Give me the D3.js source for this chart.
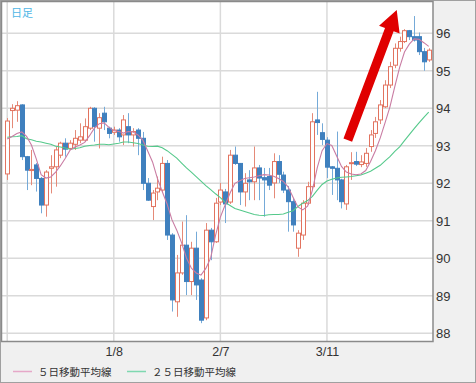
<!DOCTYPE html>
<html><head><meta charset="utf-8">
<script src="https://cdn.jsdelivr.net/npm/d3@7"></script>
<style>
html,body{margin:0;padding:0;background:#f0f0f0;}
svg{display:block;}
</style></head><body>
<svg id="c" width="476" height="383"></svg>
<script>
// ---- data ----
const openP  = [92.25,93.94,93.95,94.09,92.71,92.34,92.49,92.13,91.42,92.40,92.44,92.75,93.07,92.93,93.04,93.15,93.15,93.47,94.00,93.47,93.87,93.47,93.36,93.42,93.29,93.51,93.29,93.42,93.20,92.00,91.38,91.77,91.82,92.53,90.62,88.84,89.61,90.35,89.38,90.27,89.42,88.41,90.75,90.44,91.50,91.77,91.50,92.75,92.53,91.77,92.09,92.04,92.41,92.15,92.18,92.01,92.58,92.22,91.82,91.51,90.27,90.62,91.47,91.91,93.69,93.35,93.15,92.44,92.40,92.09,91.45,92.53,92.58,92.50,92.53,92.98,93.33,93.69,94.04,94.62,95.15,95.60,95.78,96.07,95.91,95.91,95.51,95.29];
const highP  = [93.74,94.11,94.19,94.11,92.73,92.89,92.54,92.17,92.35,92.75,92.98,93.11,93.20,93.15,93.42,93.60,93.73,94.04,94.03,93.87,94.04,93.51,93.51,93.47,93.82,93.87,93.47,93.47,93.37,92.14,91.82,92.18,92.71,92.62,90.67,90.09,90.98,91.15,90.44,90.71,89.47,90.94,90.81,91.61,92.01,91.85,92.89,92.98,92.54,92.27,92.35,92.98,92.49,92.41,92.41,92.80,92.75,92.31,91.93,91.61,90.75,91.55,92.04,93.87,94.44,93.60,93.23,92.46,93.38,92.12,92.49,92.83,92.84,92.75,92.94,93.42,93.77,94.22,94.75,95.24,95.73,95.91,96.11,96.09,96.46,96.02,95.61,95.60];
const lowP   = [92.09,93.47,93.64,92.62,91.82,91.95,91.78,91.20,91.11,91.73,91.91,92.67,92.71,92.89,92.89,93.07,93.11,93.42,93.11,92.93,93.42,93.20,93.29,93.11,93.02,93.07,92.98,92.75,91.82,91.53,91.02,91.55,91.77,90.49,88.58,88.44,89.56,89.02,89.02,88.89,88.27,88.35,89.95,90.41,91.42,90.94,91.45,92.49,91.42,91.38,91.55,91.55,91.55,91.11,91.82,91.60,92.01,91.74,90.71,90.71,90.04,90.49,91.42,91.82,93.29,93.02,92.14,91.69,91.55,91.33,91.29,92.09,92.46,92.43,92.44,92.84,93.21,93.58,94.01,94.54,95.07,95.51,95.74,95.82,95.78,95.42,95.00,95.24];
const closeP = [93.66,94.00,94.07,92.71,92.35,92.37,92.13,91.42,92.30,92.44,92.89,93.07,92.91,93.07,93.20,93.24,93.51,94.00,93.51,93.75,93.64,93.33,93.42,93.24,93.69,93.29,93.38,93.20,92.00,91.55,91.74,91.87,92.53,90.62,88.89,89.61,90.35,89.38,90.27,89.29,88.35,90.75,90.44,91.47,91.82,91.45,92.75,92.53,91.77,92.00,92.04,92.41,92.14,92.09,91.95,92.58,92.24,91.82,91.51,90.89,90.67,91.47,91.91,93.64,93.62,93.17,92.43,92.40,92.09,91.51,92.44,92.55,92.51,92.57,92.80,93.29,93.64,94.09,94.62,95.11,95.60,95.78,96.07,95.91,95.82,95.51,95.24,95.55];
const ma5    = [93.18,93.25,93.33,93.37,93.25,93.02,92.65,92.23,92.14,92.17,92.30,92.47,92.67,92.89,92.97,93.02,93.09,93.27,93.47,93.59,93.61,93.49,93.41,93.38,93.34,93.38,93.37,93.29,93.15,92.86,92.57,92.13,91.78,91.45,91.03,90.75,90.41,90.01,89.74,89.61,89.55,89.73,90.01,90.61,91.10,91.43,91.74,92.00,92.07,92.13,92.15,92.17,92.20,92.23,92.22,92.19,92.13,92.05,91.90,91.63,91.37,91.29,91.39,91.82,92.42,92.87,93.06,93.01,92.73,92.45,92.30,92.25,92.23,92.25,92.34,92.58,92.87,93.21,93.62,94.04,94.58,95.09,95.50,95.71,95.85,95.84,95.75,95.65];
const ma25   = [93.23,93.24,93.25,93.27,93.19,93.16,93.12,93.10,93.07,93.04,92.99,92.97,92.94,92.91,92.93,92.95,92.99,93.01,93.02,93.04,93.04,93.03,93.05,93.07,93.10,93.10,93.08,93.06,93.02,92.99,92.98,92.99,92.95,92.87,92.77,92.67,92.54,92.41,92.30,92.18,92.06,91.94,91.83,91.72,91.62,91.49,91.41,91.33,91.29,91.25,91.21,91.17,91.15,91.14,91.16,91.17,91.17,91.18,91.23,91.27,91.38,91.47,91.54,91.65,91.82,91.97,92.06,92.11,92.14,92.16,92.17,92.18,92.20,92.22,92.27,92.32,92.40,92.48,92.60,92.71,92.85,92.97,93.14,93.30,93.46,93.61,93.76,93.90];
const yTicks = [88,89,90,91,92,93,94,95,96];
const xTickIndex = [0,22,44,66];
const xTickLabels = ["","1/8","2/7","3/11"];
const titleText = "日足";
const legendLabels = ["５日移動平均線","２５日移動平均線"];
const arrowFrom = [70.3, 93.15];
const arrowTo = [80.4, 96.62];

// ---- drawing ----
const W = 476, H = 383;
const plot = {l:1.5, t:1.5, r:433, b:341.5};
const svg = d3.select("#c");
const x = d3.scaleLinear().domain([0, 87]).range([7.2, 428.7]);
const y = d3.scaleLinear().domain([88, 96]).range([333.3, 33.3]);
const red = "#e2735f", redWick = "#e58a78";
const blue = "#3f80be", blueWick = "#75aad8";
const pink = "#c97ca3", green = "#55c98b";

svg.append("rect").attr("x",0.5).attr("y",0.5).attr("width",W-1).attr("height",H-1)
  .attr("fill","#f0f0f0").attr("stroke","#a0a0a0");
svg.append("rect").attr("x",plot.l).attr("y",plot.t).attr("width",plot.r-plot.l).attr("height",plot.b-plot.t)
  .attr("fill","#ffffff");

// grid
const grid = svg.append("g");
grid.selectAll("line.h").data(yTicks).join("line")
  .attr("x1",plot.l).attr("x2",plot.r).attr("y1",d=>y(d)).attr("y2",d=>y(d))
  .attr("stroke","#dadada").attr("stroke-width",1.5);
grid.selectAll("line.v").data(xTickIndex).join("line")
  .attr("x1",d=>x(d)).attr("x2",d=>x(d)).attr("y1",plot.t).attr("y2",plot.b)
  .attr("stroke","#dadada").attr("stroke-width",1.5);

// candles
const data = openP.map((o,i)=>({i, o, h:highP[i], l:lowP[i], c:closeP[i]}));
const cg = svg.append("g");
const bw = 4;
data.forEach(d=>{
  const up = d.c >= d.o;
  const cx = Math.round(x(d.i)) + 0.5;
  const top = y(Math.max(d.o,d.c)), bot = y(Math.min(d.o,d.c));
  cg.append("line").attr("x1",cx).attr("x2",cx).attr("y1",y(d.h)).attr("y2",y(d.l))
    .attr("stroke", up ? redWick : blueWick).attr("stroke-width",1);
  cg.append("rect").attr("x",cx-bw/2).attr("y",top).attr("width",bw).attr("height",Math.max(1,bot-top))
    .attr("fill", up ? "#ffffff" : blue).attr("stroke", up ? red : blue).attr("stroke-width",1);
});

// moving averages
const line = d3.line().x((d,i)=>x(i)).y(d=>y(d));
svg.append("path").datum(ma25).attr("d",line).attr("fill","none").attr("stroke",green).attr("stroke-width",1.1);
svg.append("path").datum(ma5).attr("d",line).attr("fill","none").attr("stroke",pink).attr("stroke-width",1.1);

// arrow
(function(){
  const x0 = x(arrowFrom[0]), y0 = y(arrowFrom[1]);
  const x1 = x(arrowTo[0]), y1 = y(arrowTo[1]);
  const dx = x1-x0, dy = y1-y0, len = Math.hypot(dx,dy);
  const ux = dx/len, uy = dy/len, px = -uy, py = ux;
  const sw = 4.6, hw = 11, hl = 21;
  const bx = x1 - ux*hl, by = y1 - uy*hl;
  const pts = [
    [x0+px*sw, y0+py*sw],[bx+px*sw, by+py*sw],[bx+px*hw, by+py*hw],[x1,y1],
    [bx-px*hw, by-py*hw],[bx-px*sw, by-py*sw],[x0-px*sw, y0-py*sw]];
  svg.append("polygon").attr("points", pts.map(p=>p.join(",")).join(" ")).attr("fill","#e00000");
})();

// plot frame
svg.append("rect").attr("x",plot.l).attr("y",plot.t).attr("width",plot.r-plot.l).attr("height",plot.b-plot.t)
  .attr("fill","none").attr("stroke","#8a8a8a").attr("stroke-width",1.5);

// title
svg.append("text").attr("x",11).attr("y",17).text(titleText)
  .attr("font-family","'Noto Sans CJK JP', sans-serif").attr("font-size",11).attr("fill","#4fb6e6");

// y axis
const yAxis = d3.axisRight(y).tickValues(yTicks).tickSize(0).tickPadding(0).tickFormat(d3.format("d"));
const ya = svg.append("g").attr("transform",`translate(${plot.r+3},0)`).call(yAxis);
ya.select(".domain").remove();
ya.selectAll("text").attr("font-family","'Liberation Sans', Arial, sans-serif").attr("font-size",13).attr("fill","#333").attr("dy","0.36em");

// x axis
const xAxis = d3.axisBottom(x).tickValues(xTickIndex).tickSize(0).tickPadding(0)
  .tickFormat((d,k)=>xTickLabels[k]);
const xa = svg.append("g").attr("transform",`translate(0,${plot.b+14.5})`).call(xAxis);
xa.select(".domain").remove();
xa.selectAll("text").attr("font-family","'Liberation Sans', Arial, sans-serif").attr("font-size",12.5).attr("fill","#333").attr("dy","0");

// legend
const lg = svg.append("g");
const legColors = ["#e6a8c8", "#7fd8b0"];
const legX = [13, 127];
legendLabels.forEach((t,k)=>{
  lg.append("line").attr("x1",legX[k]).attr("x2",legX[k]+19).attr("y1",371.5).attr("y2",371.5)
    .attr("stroke",legColors[k]).attr("stroke-width",1.5);
  lg.append("text").attr("x",legX[k]+25).attr("y",375.5).text(t)
    .attr("font-family","'Noto Sans CJK JP', sans-serif").attr("font-size",10.5).attr("fill","#333");
});
</script>
</body></html>
